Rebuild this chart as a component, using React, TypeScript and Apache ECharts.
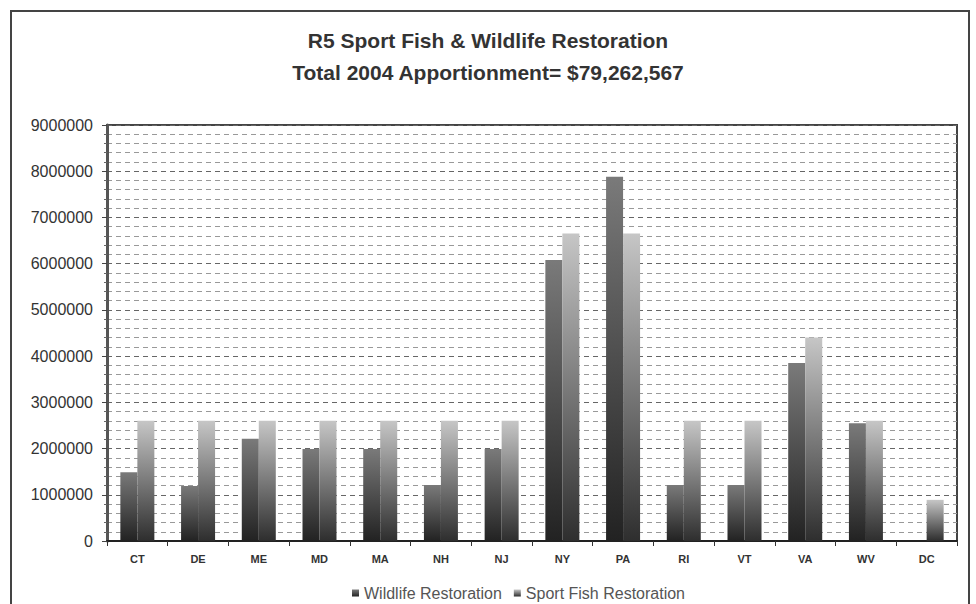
import React, { useEffect, useRef } from "react";
import * as echarts from "echarts";

const categories = ["CT", "DE", "ME", "MD", "MA", "NH", "NJ", "NY", "PA", "RI", "VT", "VA", "WV", "DC"];
const wildlife = [1490000, 1190000, 2210000, 1990000, 1990000, 1210000, 1990000, 6080000, 7880000, 1210000, 1210000, 3850000, 2550000, 0];
const sportFish = [2600000, 2600000, 2600000, 2600000, 2600000, 2600000, 2600000, 6650000, 6650000, 2600000, 2600000, 4400000, 2600000, 890000];
const titleLine1 = "R5 Sport Fish & Wildlife Restoration";
const titleLine2 = "Total 2004 Apportionment= $79,262,567";
const seriesNames = ["Wildlife Restoration", "Sport Fish Restoration"];

export default function App() {
  const ref = useRef<HTMLDivElement>(null);
  useEffect(() => {
    if (!ref.current) return;
    const chart = echarts.init(ref.current, null, { renderer: "svg" });
    const font = "Liberation Sans, Arial, sans-serif";
    chart.setOption({
      animation: false,
      backgroundColor: "#ffffff",
      title: [
        {
          text: titleLine1,
          left: "center",
          top: 25,
          textStyle: { fontFamily: font, fontSize: 21, fontWeight: "bold", color: "#333" },
        },
        {
          text: titleLine2,
          left: "center",
          top: 57,
          textStyle: { fontFamily: font, fontSize: 21, fontWeight: "bold", color: "#333" },
        },
      ],
      graphic: [
        {
          type: "rect",
          shape: { x: 11, y: 11, width: 958, height: 640 },
          style: { fill: "none", stroke: "#444", lineWidth: 2 },
          silent: true,
        },
      ],
      legend: {
        data: seriesNames,
        top: 580,
        left: 347,
        itemWidth: 7,
        itemHeight: 7,
        itemGap: 12,
        icon: "rect",
        textStyle: { fontFamily: font, fontSize: 16, color: "#555" },
      },
      grid: {
        left: 107,
        right: 19,
        top: 125,
        bottom: 63,
        show: true,
        borderColor: "#444",
        borderWidth: 2,
        backgroundColor: "transparent",
      },
      xAxis: {
        type: "category",
        data: categories,
        axisLine: { lineStyle: { color: "#222", width: 2 } },
        axisTick: { show: true, length: 5, lineStyle: { color: "#333" } },
        axisLabel: { fontFamily: font, fontSize: 11, fontWeight: "bold", color: "#333", margin: 12 },
      },
      yAxis: {
        type: "value",
        min: 0,
        max: 9000000,
        interval: 1000000,
        axisLine: { show: true, lineStyle: { color: "#555", width: 3 } },
        axisTick: { show: true, length: 5, lineStyle: { color: "#444" } },
        minorTick: { show: true, splitNumber: 5, length: 3, lineStyle: { color: "#666" } },
        axisLabel: {
          fontFamily: font,
          fontSize: 16,
          color: "#333",
          margin: 14,
          formatter: (v: number) => String(v),
        },
        splitLine: { show: true, lineStyle: { color: "#666", type: [5, 4], width: 1 } },
        minorSplitLine: { show: true, lineStyle: { color: "#999", type: [5, 4], width: 1 } },
      },
      series: [
        {
          name: seriesNames[0],
          type: "bar",
          data: wildlife,
          barWidth: 17,
          barGap: "0%",
          itemStyle: {
            color: new echarts.graphic.LinearGradient(0, 0, 0, 1, [
              { offset: 0, color: "#7a7a7a" },
              { offset: 1, color: "#222222" },
            ]),
          },
        },
        {
          name: seriesNames[1],
          type: "bar",
          data: sportFish,
          barWidth: 17,
          barGap: "0%",
          itemStyle: {
            color: new echarts.graphic.LinearGradient(0, 0, 0, 1, [
              { offset: 0, color: "#c6c6c6" },
              { offset: 1, color: "#2e2e2e" },
            ]),
          },
        },
      ],
    });
    return () => chart.dispose();
  }, []);
  return (
    <div
      ref={ref}
      style={{ position: "fixed", left: 0, top: 0, width: 976, height: 604 }}
    />
  );
}
